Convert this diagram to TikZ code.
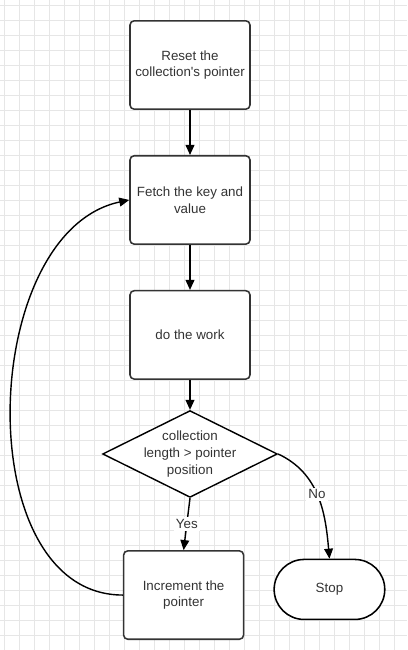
\documentclass[tikz,border=0pt]{standalone}
\usepackage{fontspec}
\setmainfont{Liberation Sans}
\usetikzlibrary{arrows.meta,positioning,shapes.geometric,shapes.misc}
\definecolor{chartink}{HTML}{333333}
\definecolor{chartgrid}{HTML}{E6E6E6}
\tikzset{
  stepbox/.style={rectangle,rounded corners=3pt,draw=chartink,line width=1.1pt,fill=white,minimum width=3cm,minimum height=2.21cm,align=center,text=chartink},
  decision/.style={diamond,draw=black,line width=1pt,fill=white,minimum width=4.37cm,minimum height=2.17cm,aspect=2,inner sep=-1.5mm,align=center,text=chartink},
  terminal/.style={rounded rectangle,draw=black,line width=1.1pt,fill=white,minimum width=3cm,minimum height=1.5cm,text=chartink},
  flow/.style={-{Triangle[length=2.5mm,width=2.2mm]},line width=1pt,black},
  tag/.style={fill=white,inner sep=1.5pt,text=chartink},
  gridline/.style={draw=chartgrid,line width=0.5pt}
}

\begin{document}
\begin{tikzpicture}[font=\fontsize{9.5}{12}\selectfont,node distance=1.125cm]
  \useasboundingbox (0,0) rectangle (10.175,-16.25);
  \draw[gridline,shift={(0.1,-0.125)},step=0.375] (-0.1,0.125) grid (10.075,-16.125);
  % main column
  \node[stepbox] (reset) at (4.75,-1.625) {Reset the\\collection\textquotesingle s pointer};
  \node[stepbox,below=of reset] (fetch) {Fetch the key and\\value};
  \node[stepbox,below=of fetch] (work) {do the work};
  \node[decision,below=7.5mm of work] (check) {collection\\length > pointer\\position};
  \node[stepbox,below=13mm of check,xshift=-1.6mm] (incr) {Increment the\\pointer};
  \node[terminal,right=7.25mm of incr,yshift=1.4mm] (stop) {Stop};
  % connectors
  \draw[flow] (reset) -- (fetch);
  \draw[flow] (fetch) -- (work);
  \draw[flow] (work) -- (check);
  \draw[flow] (check.south) -- node[tag] {Yes} (incr.north);
  \draw[flow] (check.east) to[out=-25,in=95] node[tag,pos=0.48] {No} (stop.north);
  \draw[flow] (incr.west) to[out=180,in=192,looseness=1.0] (fetch.west);
\end{tikzpicture}
\end{document}
